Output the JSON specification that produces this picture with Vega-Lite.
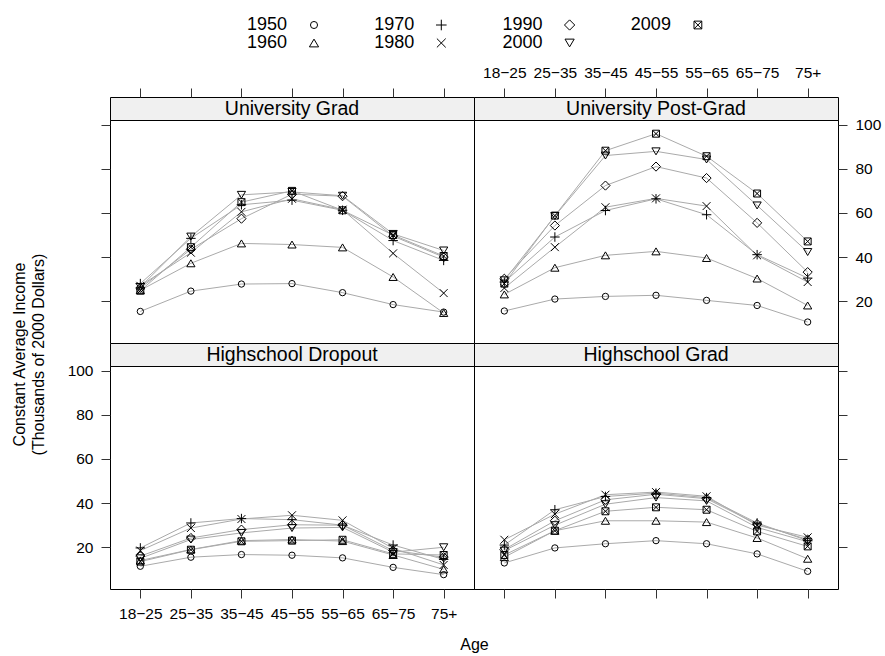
{
  "$schema": "https://vega.github.io/schema/vega-lite/v6.json",
  "padding": {"left": 10, "top": 16, "right": 3, "bottom": 2},
  "config": {
    "font": "Liberation Sans",
    "view": {"stroke": "black", "strokeWidth": 1},
    "axis": {"domain": false, "grid": false, "tickColor": "#333", "tickSize": 9, "labelFontSize": 15.5, "labelColor": "black", "labelPadding": 8, "titleFontWeight": "normal", "titleFontSize": 16, "titleColor": "black"},
    "axisX": {"labelAngle": 0, "labelOverlap": false},
    "legend": {"orient": "none", "legendX": 195, "legendY": -81}
  },
  "data": {"values": [
    {"edu":"University Grad","year":"1950","age":"18−25","income":15.4},{"edu":"University Grad","year":"1950","age":"25−35","income":24.6},{"edu":"University Grad","year":"1950","age":"35−45","income":27.8},{"edu":"University Grad","year":"1950","age":"45−55","income":28.0},{"edu":"University Grad","year":"1950","age":"55−65","income":23.9},{"edu":"University Grad","year":"1950","age":"65−75","income":18.5},{"edu":"University Grad","year":"1950","age":"75+","income":15.1},
    {"edu":"University Grad","year":"1960","age":"18−25","income":25.0},{"edu":"University Grad","year":"1960","age":"25−35","income":37.2},{"edu":"University Grad","year":"1960","age":"35−45","income":46.2},{"edu":"University Grad","year":"1960","age":"45−55","income":45.7},{"edu":"University Grad","year":"1960","age":"55−65","income":44.4},{"edu":"University Grad","year":"1960","age":"65−75","income":31.0},{"edu":"University Grad","year":"1960","age":"75+","income":14.7},
    {"edu":"University Grad","year":"1970","age":"18−25","income":28.0},{"edu":"University Grad","year":"1970","age":"25−35","income":48.5},{"edu":"University Grad","year":"1970","age":"35−45","income":63.7},{"edu":"University Grad","year":"1970","age":"45−55","income":65.8},{"edu":"University Grad","year":"1970","age":"55−65","income":61.2},{"edu":"University Grad","year":"1970","age":"65−75","income":47.5},{"edu":"University Grad","year":"1970","age":"75+","income":38.5},
    {"edu":"University Grad","year":"1980","age":"18−25","income":27.0},{"edu":"University Grad","year":"1980","age":"25−35","income":42.0},{"edu":"University Grad","year":"1980","age":"35−45","income":60.5},{"edu":"University Grad","year":"1980","age":"45−55","income":66.4},{"edu":"University Grad","year":"1980","age":"55−65","income":61.5},{"edu":"University Grad","year":"1980","age":"65−75","income":41.7},{"edu":"University Grad","year":"1980","age":"75+","income":23.7},
    {"edu":"University Grad","year":"1990","age":"18−25","income":26.0},{"edu":"University Grad","year":"1990","age":"25−35","income":43.5},{"edu":"University Grad","year":"1990","age":"35−45","income":57.4},{"edu":"University Grad","year":"1990","age":"45−55","income":68.5},{"edu":"University Grad","year":"1990","age":"55−65","income":67.6},{"edu":"University Grad","year":"1990","age":"65−75","income":49.5},{"edu":"University Grad","year":"1990","age":"75+","income":40.0},
    {"edu":"University Grad","year":"2000","age":"18−25","income":26.5},{"edu":"University Grad","year":"2000","age":"25−35","income":49.3},{"edu":"University Grad","year":"2000","age":"35−45","income":68.2},{"edu":"University Grad","year":"2000","age":"45−55","income":69.5},{"edu":"University Grad","year":"2000","age":"55−65","income":67.8},{"edu":"University Grad","year":"2000","age":"65−75","income":50.5},{"edu":"University Grad","year":"2000","age":"75+","income":43.0},
    {"edu":"University Grad","year":"2009","age":"18−25","income":24.8},{"edu":"University Grad","year":"2009","age":"25−35","income":44.5},{"edu":"University Grad","year":"2009","age":"35−45","income":64.9},{"edu":"University Grad","year":"2009","age":"45−55","income":70.0},{"edu":"University Grad","year":"2009","age":"55−65","income":61.2},{"edu":"University Grad","year":"2009","age":"65−75","income":50.0},{"edu":"University Grad","year":"2009","age":"75+","income":40.5},
    {"edu":"University Post-Grad","year":"1950","age":"18−25","income":15.6},{"edu":"University Post-Grad","year":"1950","age":"25−35","income":21.0},{"edu":"University Post-Grad","year":"1950","age":"35−45","income":22.2},{"edu":"University Post-Grad","year":"1950","age":"45−55","income":22.7},{"edu":"University Post-Grad","year":"1950","age":"55−65","income":20.4},{"edu":"University Post-Grad","year":"1950","age":"65−75","income":18.1},{"edu":"University Post-Grad","year":"1950","age":"75+","income":10.6},
    {"edu":"University Post-Grad","year":"1960","age":"18−25","income":23.1},{"edu":"University Post-Grad","year":"1960","age":"25−35","income":35.2},{"edu":"University Post-Grad","year":"1960","age":"35−45","income":40.8},{"edu":"University Post-Grad","year":"1960","age":"45−55","income":42.6},{"edu":"University Post-Grad","year":"1960","age":"55−65","income":39.6},{"edu":"University Post-Grad","year":"1960","age":"65−75","income":30.3},{"edu":"University Post-Grad","year":"1960","age":"75+","income":18.1},
    {"edu":"University Post-Grad","year":"1970","age":"18−25","income":28.7},{"edu":"University Post-Grad","year":"1970","age":"25−35","income":49.1},{"edu":"University Post-Grad","year":"1970","age":"35−45","income":61.1},{"edu":"University Post-Grad","year":"1970","age":"45−55","income":66.4},{"edu":"University Post-Grad","year":"1970","age":"55−65","income":59.2},{"edu":"University Post-Grad","year":"1970","age":"65−75","income":41.1},{"edu":"University Post-Grad","year":"1970","age":"75+","income":30.5},
    {"edu":"University Post-Grad","year":"1980","age":"18−25","income":26.0},{"edu":"University Post-Grad","year":"1980","age":"25−35","income":44.5},{"edu":"University Post-Grad","year":"1980","age":"35−45","income":62.6},{"edu":"University Post-Grad","year":"1980","age":"45−55","income":66.6},{"edu":"University Post-Grad","year":"1980","age":"55−65","income":63.1},{"edu":"University Post-Grad","year":"1980","age":"65−75","income":40.8},{"edu":"University Post-Grad","year":"1980","age":"75+","income":28.7},
    {"edu":"University Post-Grad","year":"1990","age":"18−25","income":30.2},{"edu":"University Post-Grad","year":"1990","age":"25−35","income":54.3},{"edu":"University Post-Grad","year":"1990","age":"35−45","income":72.4},{"edu":"University Post-Grad","year":"1990","age":"45−55","income":81.0},{"edu":"University Post-Grad","year":"1990","age":"55−65","income":75.8},{"edu":"University Post-Grad","year":"1990","age":"65−75","income":55.5},{"edu":"University Post-Grad","year":"1990","age":"75+","income":33.2},
    {"edu":"University Post-Grad","year":"2000","age":"18−25","income":29.5},{"edu":"University Post-Grad","year":"2000","age":"25−35","income":58.6},{"edu":"University Post-Grad","year":"2000","age":"35−45","income":86.0},{"edu":"University Post-Grad","year":"2000","age":"45−55","income":87.9},{"edu":"University Post-Grad","year":"2000","age":"55−65","income":84.2},{"edu":"University Post-Grad","year":"2000","age":"65−75","income":63.4},{"edu":"University Post-Grad","year":"2000","age":"75+","income":42.3},
    {"edu":"University Post-Grad","year":"2009","age":"18−25","income":28.0},{"edu":"University Post-Grad","year":"2009","age":"25−35","income":58.8},{"edu":"University Post-Grad","year":"2009","age":"35−45","income":88.2},{"edu":"University Post-Grad","year":"2009","age":"45−55","income":95.9},{"edu":"University Post-Grad","year":"2009","age":"55−65","income":85.7},{"edu":"University Post-Grad","year":"2009","age":"65−75","income":68.8},{"edu":"University Post-Grad","year":"2009","age":"75+","income":47.1},
    {"edu":"Highschool Dropout","year":"1950","age":"18−25","income":11.4},{"edu":"Highschool Dropout","year":"1950","age":"25−35","income":15.5},{"edu":"Highschool Dropout","year":"1950","age":"35−45","income":16.7},{"edu":"Highschool Dropout","year":"1950","age":"45−55","income":16.4},{"edu":"Highschool Dropout","year":"1950","age":"55−65","income":15.2},{"edu":"Highschool Dropout","year":"1950","age":"65−75","income":10.9},{"edu":"Highschool Dropout","year":"1950","age":"75+","income":7.6},
    {"edu":"Highschool Dropout","year":"1960","age":"18−25","income":14.0},{"edu":"Highschool Dropout","year":"1960","age":"25−35","income":19.0},{"edu":"Highschool Dropout","year":"1960","age":"35−45","income":23.0},{"edu":"Highschool Dropout","year":"1960","age":"45−55","income":23.5},{"edu":"Highschool Dropout","year":"1960","age":"55−65","income":22.8},{"edu":"Highschool Dropout","year":"1960","age":"65−75","income":16.5},{"edu":"Highschool Dropout","year":"1960","age":"75+","income":10.0},
    {"edu":"Highschool Dropout","year":"1970","age":"18−25","income":19.7},{"edu":"Highschool Dropout","year":"1970","age":"25−35","income":31.0},{"edu":"Highschool Dropout","year":"1970","age":"35−45","income":33.0},{"edu":"Highschool Dropout","year":"1970","age":"45−55","income":32.5},{"edu":"Highschool Dropout","year":"1970","age":"55−65","income":30.0},{"edu":"Highschool Dropout","year":"1970","age":"65−75","income":21.0},{"edu":"Highschool Dropout","year":"1970","age":"75+","income":14.5},
    {"edu":"Highschool Dropout","year":"1980","age":"18−25","income":18.5},{"edu":"Highschool Dropout","year":"1980","age":"25−35","income":28.7},{"edu":"Highschool Dropout","year":"1980","age":"35−45","income":32.8},{"edu":"Highschool Dropout","year":"1980","age":"45−55","income":34.5},{"edu":"Highschool Dropout","year":"1980","age":"55−65","income":32.2},{"edu":"Highschool Dropout","year":"1980","age":"65−75","income":19.5},{"edu":"Highschool Dropout","year":"1980","age":"75+","income":12.0},
    {"edu":"Highschool Dropout","year":"1990","age":"18−25","income":16.0},{"edu":"Highschool Dropout","year":"1990","age":"25−35","income":24.2},{"edu":"Highschool Dropout","year":"1990","age":"35−45","income":28.0},{"edu":"Highschool Dropout","year":"1990","age":"45−55","income":30.2},{"edu":"Highschool Dropout","year":"1990","age":"55−65","income":30.0},{"edu":"Highschool Dropout","year":"1990","age":"65−75","income":18.5},{"edu":"Highschool Dropout","year":"1990","age":"75+","income":15.5},
    {"edu":"Highschool Dropout","year":"2000","age":"18−25","income":15.0},{"edu":"Highschool Dropout","year":"2000","age":"25−35","income":23.5},{"edu":"Highschool Dropout","year":"2000","age":"35−45","income":26.5},{"edu":"Highschool Dropout","year":"2000","age":"45−55","income":28.7},{"edu":"Highschool Dropout","year":"2000","age":"55−65","income":29.0},{"edu":"Highschool Dropout","year":"2000","age":"65−75","income":17.8},{"edu":"Highschool Dropout","year":"2000","age":"75+","income":20.0},
    {"edu":"Highschool Dropout","year":"2009","age":"18−25","income":13.5},{"edu":"Highschool Dropout","year":"2009","age":"25−35","income":18.9},{"edu":"Highschool Dropout","year":"2009","age":"35−45","income":22.7},{"edu":"Highschool Dropout","year":"2009","age":"45−55","income":23.0},{"edu":"Highschool Dropout","year":"2009","age":"55−65","income":23.4},{"edu":"Highschool Dropout","year":"2009","age":"65−75","income":17.0},{"edu":"Highschool Dropout","year":"2009","age":"75+","income":16.5},
    {"edu":"Highschool Grad","year":"1950","age":"18−25","income":12.9},{"edu":"Highschool Grad","year":"1950","age":"25−35","income":19.7},{"edu":"Highschool Grad","year":"1950","age":"35−45","income":21.6},{"edu":"Highschool Grad","year":"1950","age":"45−55","income":23.0},{"edu":"Highschool Grad","year":"1950","age":"55−65","income":21.6},{"edu":"Highschool Grad","year":"1950","age":"65−75","income":17.0},{"edu":"Highschool Grad","year":"1950","age":"75+","income":9.1},
    {"edu":"Highschool Grad","year":"1960","age":"18−25","income":15.5},{"edu":"Highschool Grad","year":"1960","age":"25−35","income":27.5},{"edu":"Highschool Grad","year":"1960","age":"35−45","income":32.0},{"edu":"Highschool Grad","year":"1960","age":"45−55","income":32.0},{"edu":"Highschool Grad","year":"1960","age":"55−65","income":31.4},{"edu":"Highschool Grad","year":"1960","age":"65−75","income":24.2},{"edu":"Highschool Grad","year":"1960","age":"75+","income":14.8},
    {"edu":"Highschool Grad","year":"1970","age":"18−25","income":21.0},{"edu":"Highschool Grad","year":"1970","age":"25−35","income":37.0},{"edu":"Highschool Grad","year":"1970","age":"35−45","income":43.0},{"edu":"Highschool Grad","year":"1970","age":"45−55","income":44.5},{"edu":"Highschool Grad","year":"1970","age":"55−65","income":42.5},{"edu":"Highschool Grad","year":"1970","age":"65−75","income":31.0},{"edu":"Highschool Grad","year":"1970","age":"75+","income":23.0},
    {"edu":"Highschool Grad","year":"1980","age":"18−25","income":23.4},{"edu":"Highschool Grad","year":"1980","age":"25−35","income":35.0},{"edu":"Highschool Grad","year":"1980","age":"35−45","income":43.8},{"edu":"Highschool Grad","year":"1980","age":"45−55","income":45.0},{"edu":"Highschool Grad","year":"1980","age":"55−65","income":43.1},{"edu":"Highschool Grad","year":"1980","age":"65−75","income":30.0},{"edu":"Highschool Grad","year":"1980","age":"75+","income":24.5},
    {"edu":"Highschool Grad","year":"1990","age":"18−25","income":19.0},{"edu":"Highschool Grad","year":"1990","age":"25−35","income":32.0},{"edu":"Highschool Grad","year":"1990","age":"35−45","income":41.5},{"edu":"Highschool Grad","year":"1990","age":"45−55","income":44.0},{"edu":"Highschool Grad","year":"1990","age":"55−65","income":42.0},{"edu":"Highschool Grad","year":"1990","age":"65−75","income":30.5},{"edu":"Highschool Grad","year":"1990","age":"75+","income":23.5},
    {"edu":"Highschool Grad","year":"2000","age":"18−25","income":18.5},{"edu":"Highschool Grad","year":"2000","age":"25−35","income":30.0},{"edu":"Highschool Grad","year":"2000","age":"35−45","income":39.5},{"edu":"Highschool Grad","year":"2000","age":"45−55","income":42.5},{"edu":"Highschool Grad","year":"2000","age":"55−65","income":41.0},{"edu":"Highschool Grad","year":"2000","age":"65−75","income":29.0},{"edu":"Highschool Grad","year":"2000","age":"75+","income":22.5},
    {"edu":"Highschool Grad","year":"2009","age":"18−25","income":16.5},{"edu":"Highschool Grad","year":"2009","age":"25−35","income":27.5},{"edu":"Highschool Grad","year":"2009","age":"35−45","income":36.3},{"edu":"Highschool Grad","year":"2009","age":"45−55","income":38.1},{"edu":"Highschool Grad","year":"2009","age":"55−65","income":37.0},{"edu":"Highschool Grad","year":"2009","age":"65−75","income":27.2},{"edu":"Highschool Grad","year":"2009","age":"75+","income":20.4}
  ]},
  "columns": 2,
  "spacing": 0,
  "align": "each",
  "bounds": "flush",
  "concat": [
    {
      "width": 364, "height": 23,
      "view": {"fill": "#f0f0f0", "stroke": "black"},
      "layer": [
        {"data": {"values": [{"panel": "University Grad"}]}, "mark": {"type": "text", "fontSize": 19.5, "color": "black"}, "encoding": {"text": {"field": "panel"}}},
        {"mark": {"type": "point", "opacity": 0}, "encoding": {"x": {"field": "age", "type": "ordinal", "scale": {"type": "point", "padding": 0.6, "domain": ["18−25","25−35","35−45","45−55","55−65","65−75","75+"]}, "axis": {"orient": "top", "labels": false, "title": null}}}}
      ]
    },
    {
      "width": 364, "height": 23,
      "view": {"fill": "#f0f0f0", "stroke": "black"},
      "layer": [
        {"data": {"values": [{"panel": "University Post-Grad"}]}, "mark": {"type": "text", "fontSize": 19.5, "color": "black"}, "encoding": {"text": {"field": "panel"}}},
        {"mark": {"type": "point", "opacity": 0}, "encoding": {"x": {"field": "age", "type": "ordinal", "scale": {"type": "point", "padding": 0.6, "domain": ["18−25","25−35","35−45","45−55","55−65","65−75","75+"]}, "axis": {"orient": "top", "title": null}}}}
      ]
    },
    {
      "width": 364, "height": 223,
      "transform": [{"filter": "datum.edu == 'University Grad'"}],
      "encoding": {
        "x": {"field": "age", "type": "ordinal", "scale": {"type": "point", "padding": 0.6, "domain": ["18−25","25−35","35−45","45−55","55−65","65−75","75+"]}, "axis": null},
        "y": {"field": "income", "type": "quantitative", "scale": {"domain": [1.1, 102.1], "nice": false, "zero": false}, "axis": {"orient": "left", "labels": false, "title": null, "values": [20, 40, 60, 80, 100]}}
      },
      "layer": [
        {"mark": {"type": "line", "color": "#aaaaaa", "strokeWidth": 1}, "encoding": {"detail": {"field": "year", "type": "nominal"}}},
        {"mark": {"type": "point", "filled": false, "color": "black", "strokeWidth": 1, "size": 40, "opacity": 1}, "encoding": {"shape": {"field": "year", "type": "nominal", "scale": {"domain": ["1950","1970","1990","2009","1960","1980","2000"], "range": ["circle", "M-1.5,0H1.5M0,-1.5V1.5", "M0,-1.45L1.45,0L0,1.45L-1.45,0Z", "M-1.1,-1.1H1.1V1.1H-1.1ZM-1.1,-1.1L1.1,1.1M-1.1,1.1L1.1,-1.1", "M0,-1.1L1.3,1.1L-1.3,1.1Z", "M-1.25,-1.25L1.25,1.25M-1.25,1.25L1.25,-1.25", "M0,1.1L1.3,-1.1L-1.3,-1.1Z"]}, "legend": {"title": null, "columns": 4, "direction": "horizontal", "labelFontSize": 18, "labelAlign": "right", "labelOffset": -36, "columnPadding": 52.3, "rowPadding": -1.5, "symbolSize": 50, "symbolStrokeColor": "black", "symbolStrokeWidth": 1, "labelColor": "black"}}}}
      ]
    },
    {
      "width": 364, "height": 223,
      "transform": [{"filter": "datum.edu == 'University Post-Grad'"}],
      "encoding": {
        "x": {"field": "age", "type": "ordinal", "scale": {"type": "point", "padding": 0.6, "domain": ["18−25","25−35","35−45","45−55","55−65","65−75","75+"]}, "axis": null},
        "y": {"field": "income", "type": "quantitative", "scale": {"domain": [1.1, 102.1], "nice": false, "zero": false}, "axis": {"orient": "right", "title": null, "values": [20, 40, 60, 80, 100]}}
      },
      "layer": [
        {"mark": {"type": "line", "color": "#aaaaaa", "strokeWidth": 1}, "encoding": {"detail": {"field": "year", "type": "nominal"}}},
        {"mark": {"type": "point", "filled": false, "color": "black", "strokeWidth": 1, "size": 40, "opacity": 1}, "encoding": {"shape": {"field": "year", "type": "nominal", "scale": {"domain": ["1950","1970","1990","2009","1960","1980","2000"], "range": ["circle", "M-1.5,0H1.5M0,-1.5V1.5", "M0,-1.45L1.45,0L0,1.45L-1.45,0Z", "M-1.1,-1.1H1.1V1.1H-1.1ZM-1.1,-1.1L1.1,1.1M-1.1,1.1L1.1,-1.1", "M0,-1.1L1.3,1.1L-1.3,1.1Z", "M-1.25,-1.25L1.25,1.25M-1.25,1.25L1.25,-1.25", "M0,1.1L1.3,-1.1L-1.3,-1.1Z"]}}}}
      ]
    },
    {
      "width": 364, "height": 23,
      "view": {"fill": "#f0f0f0", "stroke": "black"},
      "data": {"values": [{"panel": "Highschool Dropout"}]},
      "mark": {"type": "text", "fontSize": 19.5, "color": "black"},
      "encoding": {"text": {"field": "panel"}}
    },
    {
      "width": 364, "height": 23,
      "view": {"fill": "#f0f0f0", "stroke": "black"},
      "data": {"values": [{"panel": "Highschool Grad"}]},
      "mark": {"type": "text", "fontSize": 19.5, "color": "black"},
      "encoding": {"text": {"field": "panel"}}
    },
    {
      "width": 364, "height": 223,
      "transform": [{"filter": "datum.edu == 'Highschool Dropout'"}],
      "encoding": {
        "x": {"field": "age", "type": "ordinal", "scale": {"type": "point", "padding": 0.6, "domain": ["18−25","25−35","35−45","45−55","55−65","65−75","75+"]}, "axis": {"orient": "bottom", "title": "Age", "titleX": 364, "titlePadding": 15}},
        "y": {"field": "income", "type": "quantitative", "scale": {"domain": [1.1, 102.1], "nice": false, "zero": false}, "axis": {"orient": "left", "values": [20, 40, 60, 80, 100], "title": ["Constant Average Income", "(Thousands of 2000 Dollars)"], "titleY": -12, "titlePadding": 21, "titleLineHeight": 19}}
      },
      "layer": [
        {"mark": {"type": "line", "color": "#aaaaaa", "strokeWidth": 1}, "encoding": {"detail": {"field": "year", "type": "nominal"}}},
        {"mark": {"type": "point", "filled": false, "color": "black", "strokeWidth": 1, "size": 40, "opacity": 1}, "encoding": {"shape": {"field": "year", "type": "nominal", "scale": {"domain": ["1950","1970","1990","2009","1960","1980","2000"], "range": ["circle", "M-1.5,0H1.5M0,-1.5V1.5", "M0,-1.45L1.45,0L0,1.45L-1.45,0Z", "M-1.1,-1.1H1.1V1.1H-1.1ZM-1.1,-1.1L1.1,1.1M-1.1,1.1L1.1,-1.1", "M0,-1.1L1.3,1.1L-1.3,1.1Z", "M-1.25,-1.25L1.25,1.25M-1.25,1.25L1.25,-1.25", "M0,1.1L1.3,-1.1L-1.3,-1.1Z"]}}}}
      ]
    },
    {
      "width": 364, "height": 223,
      "transform": [{"filter": "datum.edu == 'Highschool Grad'"}],
      "encoding": {
        "x": {"field": "age", "type": "ordinal", "scale": {"type": "point", "padding": 0.6, "domain": ["18−25","25−35","35−45","45−55","55−65","65−75","75+"]}, "axis": {"orient": "bottom", "labels": false, "title": null}},
        "y": {"field": "income", "type": "quantitative", "scale": {"domain": [1.1, 102.1], "nice": false, "zero": false}, "axis": {"orient": "right", "labels": false, "title": null, "values": [20, 40, 60, 80, 100]}}
      },
      "layer": [
        {"mark": {"type": "line", "color": "#aaaaaa", "strokeWidth": 1}, "encoding": {"detail": {"field": "year", "type": "nominal"}}},
        {"mark": {"type": "point", "filled": false, "color": "black", "strokeWidth": 1, "size": 40, "opacity": 1}, "encoding": {"shape": {"field": "year", "type": "nominal", "scale": {"domain": ["1950","1970","1990","2009","1960","1980","2000"], "range": ["circle", "M-1.5,0H1.5M0,-1.5V1.5", "M0,-1.45L1.45,0L0,1.45L-1.45,0Z", "M-1.1,-1.1H1.1V1.1H-1.1ZM-1.1,-1.1L1.1,1.1M-1.1,1.1L1.1,-1.1", "M0,-1.1L1.3,1.1L-1.3,1.1Z", "M-1.25,-1.25L1.25,1.25M-1.25,1.25L1.25,-1.25", "M0,1.1L1.3,-1.1L-1.3,-1.1Z"]}}}}
      ]
    }
  ]
}
